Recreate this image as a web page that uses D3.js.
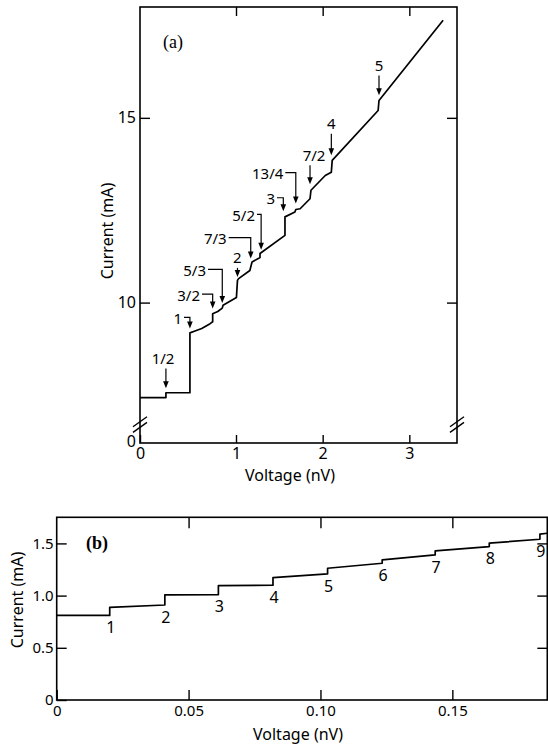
<!DOCTYPE html>
<html><head><meta charset="utf-8">
<script src="https://cdn.jsdelivr.net/npm/d3@7"></script>
<style>
body{margin:0;background:#fff}
text{font-family:"Noto Sans",sans-serif;fill:#000}
</style>
</head><body>
<svg id="c" width="548" height="746"></svg>
<script>
// ---------- Panel (a) data ----------
const aVoltage = [0,0.27,0.27,0.52,0.52,0.573,0.643,0.73,0.757,0.757,0.81,0.857,0.865,1.005,1.017,1.03,1.16,1.185,1.257,1.277,1.277,1.565,1.565,1.68,1.69,1.74,1.854,1.865,2.03,2.10,2.11,2.64,2.65,3.39];
const aCurrent = [7.43,7.43,7.56,7.56,9.18,9.23,9.30,9.43,9.48,9.70,9.76,9.85,9.93,10.14,10.60,10.65,10.87,11.10,11.19,11.22,11.33,11.82,12.32,12.45,12.52,12.54,12.81,13.04,13.44,13.53,13.85,15.20,15.47,17.64];
const aLabels = ["1/2","1","3/2","5/3","2","7/3","5/2","3","13/4","7/2","4","5"];
const aKinds  = ["above","leader","leader","leader","above","leader","leader","leader","leader","above","above","above"];
const aLabelV = [0.24,0.4375,0.625,0.6875,1.015,0.903,1.219,1.45,1.546,1.90,2.10,2.65];
const aLabelI = [8.49,9.575,10.20,10.87,11.21,11.73,12.36,12.81,13.49,13.99,14.84,16.42];
const aTipV   = [0.27,0.52,0.757,0.857,1.017,1.17,1.29,1.546,1.69,1.854,2.10,2.65];
const aTipI   = [7.68,9.30,9.84,9.99,10.69,11.19,11.43,12.47,12.68,13.20,13.99,15.61];
const aXTicks = [0,1,2,3];
const aYTicks = [10,15];
const aBreakI = 6.7;

// ---------- Panel (b) data ----------
const bVoltage = [0,0.0201,0.0201,0.041,0.041,0.0613,0.0613,0.082,0.082,0.1027,0.1027,0.1234,0.1234,0.1435,0.1435,0.164,0.164,0.1832,0.1832,0.186];
const bCurrent = [0.81,0.81,0.888,0.91,1.007,1.01,1.096,1.10,1.173,1.208,1.262,1.31,1.342,1.39,1.428,1.47,1.502,1.54,1.589,1.597];
const bStepLabels = ["1","2","3","4","5","6","7","8","9"];
const bStepV = [0.0201,0.041,0.0613,0.082,0.1027,0.1234,0.1435,0.164,0.1832];
const bStepI = [0.81,0.91,1.01,1.10,1.208,1.31,1.39,1.47,1.54];
const bXTicks = [0,0.05,0.10,0.15];
const bYTicks = [0,0.5,1.0,1.5];

const svg = d3.select("#c");

// ===== Panel (a) =====
const xA = d3.scaleLinear().domain([0,1,3.55]).range([140,236,457]);
const yA = d3.scaleLinear().domain([6.2,18]).range([443,7]);
const gA = svg.append("g");

function cleanAxis(g){ g.select(".domain").remove(); g.selectAll(".tick line").attr("stroke","#000").attr("stroke-width",1.4); g.selectAll("text").attr("fill","#000"); }

gA.append("g").attr("transform","translate(0,443)")
  .call(d3.axisBottom(xA).tickValues(aXTicks).tickSize(-8).tickPadding(5).tickFormat(d3.format("d")))
  .call(cleanAxis).selectAll("text").style("font-size","16px").style("font-family","Noto Sans");
gA.append("g").attr("transform","translate(0,7)")
  .call(d3.axisTop(xA).tickValues(aXTicks.slice(1)).tickSize(-9).tickFormat(""))
  .call(cleanAxis);
gA.append("g").attr("transform","translate(140,0)")
  .call(d3.axisLeft(yA).tickValues(aYTicks).tickSize(-10).tickPadding(4).tickFormat(d3.format("d")))
  .call(cleanAxis).selectAll("text").style("font-size","16px").style("font-family","Noto Sans");
gA.append("g").attr("transform","translate(457,0)")
  .call(d3.axisRight(yA).tickValues(aYTicks).tickSize(-10).tickFormat(""))
  .call(cleanAxis);
gA.append("text").attr("x",136).attr("y",yA.range()[0]-2).attr("dy","0.36em")
  .attr("text-anchor","end").style("font-size","16px").text("0");

gA.append("rect").attr("x",140).attr("y",7).attr("width",317).attr("height",436)
  .attr("fill","none").attr("stroke","#000").attr("stroke-width",1.6);

// axis break marks
[140,457].forEach(x=>{
  const y = yA(aBreakI);
  [-2.8,2.8].forEach(o=>{
    gA.append("line").attr("x1",x-7).attr("y1",y+o+5).attr("x2",x+7).attr("y2",y+o-5)
      .attr("stroke","#000").attr("stroke-width",1.4);
  });
});

const lineA = d3.line().x(d=>xA(d[0])).y(d=>yA(d[1]));
gA.append("path").datum(d3.zip(aVoltage,aCurrent)).attr("d",lineA)
  .attr("fill","none").attr("stroke","#000").attr("stroke-width",1.7).attr("stroke-linejoin","round");

function arrowHead(g,x,y){
  g.append("path").attr("d",`M${x},${y} L${x-2.8},${y-7} L${x+2.8},${y-7} Z`).attr("fill","#000");
}
aLabels.forEach((lab,i)=>{
  const tx = xA(aTipV[i]), ty = yA(aTipI[i]);
  const lx = xA(aLabelV[i]), ly = yA(aLabelI[i]);
  if(aKinds[i]==="above"){
    gA.append("text").attr("x",lx).attr("y",ly).attr("dy","0.36em").attr("text-anchor","middle")
      .style("font-size","15px").text(lab);
    gA.append("line").attr("x1",tx).attr("y1",ly+10).attr("x2",tx).attr("y2",ty-5)
      .attr("stroke","#000").attr("stroke-width",1.2);
    arrowHead(gA,tx,ty);
  } else {
    gA.append("text").attr("x",lx).attr("y",ly).attr("dy","0.36em").attr("text-anchor","end")
      .style("font-size","15px").text(lab);
    gA.append("path").attr("d",`M${lx+2},${ly-1} H${tx} V${ty-5}`)
      .attr("fill","none").attr("stroke","#000").attr("stroke-width",1.2);
    arrowHead(gA,tx,ty);
  }
});

gA.append("text").attr("x",163).attr("y",48).style("font-family","'Liberation Serif','DejaVu Serif',serif")
  .style("font-size","18px").text("(a)");
gA.append("text").attr("transform","translate(113,231) rotate(-90)").attr("text-anchor","middle")
  .style("font-size","16px").text("Current (mA)");
gA.append("text").attr("x",290).attr("y",481).attr("text-anchor","middle")
  .style("font-size","16px").text("Voltage (nV)");

// ===== Panel (b) =====
const xB = d3.scaleLinear().domain([0,0.186]).range([56.7,547.3]);
const yB = d3.scaleLinear().domain([0,1.75]).range([700,517.3]);
const gB = svg.append("g");
const fmtX = d => d===0 ? "0" : d3.format(".2f")(d);
const fmtY = d => d===0 ? "0" : d3.format(".1f")(d);

gB.append("g").attr("transform","translate(0,700)")
  .call(d3.axisBottom(xB).tickValues(bXTicks).tickSize(-10).tickPadding(5).tickFormat(fmtX))
  .call(cleanAxis).selectAll("text").style("font-size","15px").style("font-family","Noto Sans");
gB.append("g").attr("transform","translate(0,517.3)")
  .call(d3.axisTop(xB).tickValues(bXTicks.slice(1)).tickSize(-11).tickFormat(""))
  .call(cleanAxis);
gB.append("g").attr("transform","translate(56.7,0)")
  .call(d3.axisLeft(yB).tickValues(bYTicks).tickSize(-10).tickPadding(3).tickFormat(fmtY))
  .call(cleanAxis).selectAll("text").style("font-size","15px").style("font-family","Noto Sans");
gB.append("g").attr("transform","translate(547.3,0)")
  .call(d3.axisRight(yB).tickValues(bYTicks.slice(1)).tickSize(-10).tickFormat(""))
  .call(cleanAxis);
gB.append("rect").attr("x",56.7).attr("y",517.3).attr("width",490.6).attr("height",182.7)
  .attr("fill","none").attr("stroke","#000").attr("stroke-width",1.6);

const lineB = d3.line().x(d=>xB(d[0])).y(d=>yB(d[1]));
gB.append("path").datum(d3.zip(bVoltage,bCurrent)).attr("d",lineB)
  .attr("fill","none").attr("stroke","#000").attr("stroke-width",1.7).attr("stroke-linejoin","round");

bStepLabels.forEach((lab,i)=>{
  gB.append("text").attr("x",xB(bStepV[i])+1).attr("y",yB(bStepI[i])+12).attr("dy","0.36em")
    .attr("text-anchor","middle").style("font-size","16px").text(lab);
});

gB.append("text").attr("x",86).attr("y",549).style("font-family","'Liberation Serif','DejaVu Serif',serif")
  .style("font-weight","bold").style("font-size","18px").text("(b)");
gB.append("text").attr("transform","translate(23,600) rotate(-90)").attr("text-anchor","middle")
  .style("font-size","16px").text("Current (mA)");
gB.append("text").attr("x",298).attr("y",740).attr("text-anchor","middle")
  .style("font-size","16px").text("Voltage (nV)");
</script>
</body></html>
